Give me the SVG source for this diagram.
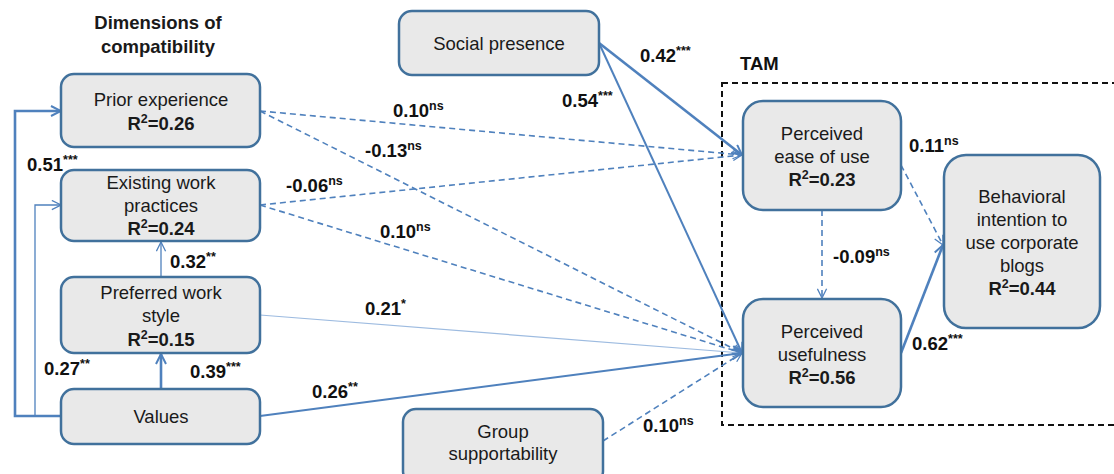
<svg xmlns="http://www.w3.org/2000/svg" width="1114" height="474" viewBox="0 0 1114 474">
<style>
.node{fill:#e9e9e9;stroke:#41719c;stroke-width:2.5}
.t{font-family:"Liberation Sans",Arial,sans-serif;font-size:18.5px;fill:#1a1a1a;text-anchor:middle}
.b{font-weight:bold}
.lab{font-family:"Liberation Sans",Arial,sans-serif;font-size:18.5px;font-weight:bold;fill:#111}
.sup{font-size:12.5px}
.c{fill:none;stroke:#4f81bd}
.thick{stroke-width:2.6}
.med{stroke-width:2}
.thin{stroke-width:1.3}
.light{stroke:#9dbbe0;stroke-width:1.2}
.dash{stroke-width:1.6;stroke-dasharray:6 4}
</style>
<defs>
<marker id="a" viewBox="0 0 12 12" refX="11" refY="6" markerWidth="12" markerHeight="12" markerUnits="userSpaceOnUse" orient="auto">
<path d="M1,1 L11,6 L1,11" fill="none" stroke="#4f81bd" stroke-width="2"/>
</marker>
<marker id="as" viewBox="0 0 12 12" refX="11" refY="6" markerWidth="11" markerHeight="11" markerUnits="userSpaceOnUse" orient="auto">
<path d="M1,1 L11,6 L1,11" fill="none" stroke="#4f81bd" stroke-width="1.4"/>
</marker>
</defs>

<g id="tam-frame">
<rect x="722" y="83" width="420" height="342" fill="none" stroke="#111" stroke-width="2" stroke-dasharray="6 4"/>
<text x="740" y="70" class="lab">TAM</text>
</g>
<g id="title">
<text x="158" y="29" class="t b">Dimensions of</text>
<text x="158" y="53" class="t b">compatibility</text>
</g>

<g id="connectors">
<polyline class="c thick" points="61,416 15,416 15,111 61,111" marker-end="url(#a)"/>
<polyline class="c thin" points="61,416 35,416 35,205 61,205" marker-end="url(#as)"/>
<line class="c thick" x1="161" y1="389" x2="161" y2="354" marker-end="url(#a)"/>
<line class="c thin" x1="161" y1="277" x2="161" y2="242" marker-end="url(#as)"/>
<line class="c dash" x1="260" y1="111" x2="742" y2="155" marker-end="url(#as)"/>
<line class="c dash" x1="260" y1="111" x2="742" y2="353" marker-end="url(#as)"/>
<line class="c dash" x1="260" y1="205" x2="742" y2="155" marker-end="url(#as)"/>
<line class="c dash" x1="260" y1="205" x2="742" y2="353" marker-end="url(#as)"/>
<line class="c light" x1="260" y1="315" x2="742" y2="353" marker-end="url(#as)"/>
<line class="c med" x1="260" y1="416" x2="742" y2="353" marker-end="url(#a)"/>
<line class="c dash" x1="603" y1="441" x2="742" y2="353" marker-end="url(#as)"/>
<line class="c thick" x1="599" y1="43" x2="742" y2="155" marker-end="url(#a)"/>
<line class="c med" x1="599" y1="43" x2="742" y2="353" marker-end="url(#a)"/>
<line class="c dash" x1="822" y1="210" x2="822" y2="298" marker-end="url(#as)"/>
<line class="c dash" x1="901" y1="165" x2="943" y2="245" marker-end="url(#as)"/>
<line class="c thick" x1="901" y1="353" x2="943" y2="245" marker-end="url(#a)"/>
</g>

<g id="labels">
<text x="27" y="171" class="lab">0.51<tspan class="sup" dy="-7">***</tspan></text>
<text x="44" y="375" class="lab">0.27<tspan class="sup" dy="-7">**</tspan></text>
<text x="170" y="268" class="lab">0.32<tspan class="sup" dy="-7">**</tspan></text>
<text x="190" y="378" class="lab">0.39<tspan class="sup" dy="-7">***</tspan></text>
<text x="393" y="117" class="lab">0.10<tspan class="sup" dy="-7">ns</tspan></text>
<text x="365" y="157" class="lab">-0.13<tspan class="sup" dy="-7">ns</tspan></text>
<text x="286" y="192" class="lab">-0.06<tspan class="sup" dy="-7">ns</tspan></text>
<text x="380" y="238" class="lab">0.10<tspan class="sup" dy="-7">ns</tspan></text>
<text x="562" y="107" class="lab">0.54<tspan class="sup" dy="-7">***</tspan></text>
<text x="640" y="62" class="lab">0.42<tspan class="sup" dy="-7">***</tspan></text>
<text x="365" y="315" class="lab">0.21<tspan class="sup" dy="-7">*</tspan></text>
<text x="312" y="398" class="lab">0.26<tspan class="sup" dy="-7">**</tspan></text>
<text x="643" y="432" class="lab">0.10<tspan class="sup" dy="-7">ns</tspan></text>
<text x="909" y="152" class="lab">0.11<tspan class="sup" dy="-7">ns</tspan></text>
<text x="833" y="263" class="lab">-0.09<tspan class="sup" dy="-7">ns</tspan></text>
<text x="912" y="350" class="lab">0.62<tspan class="sup" dy="-7">***</tspan></text>
</g>

<g id="prior-experience">
<rect class="node" x="61" y="74" width="199" height="73" rx="13"/>
<text class="t" x="161" y="106">Prior experience</text>
<text class="t b" x="161" y="130">R<tspan class="sup" dy="-7">2</tspan><tspan dy="7">=0.26</tspan></text>
</g>
<g id="existing-work-practices">
<rect class="node" x="61" y="170" width="199" height="71" rx="13"/>
<text class="t" x="161" y="189">Existing work</text>
<text class="t" x="161" y="212">practices</text>
<text class="t b" x="161" y="235">R<tspan class="sup" dy="-7">2</tspan><tspan dy="7">=0.24</tspan></text>
</g>
<g id="preferred-work-style">
<rect class="node" x="61" y="277" width="199" height="76" rx="13"/>
<text class="t" x="161" y="299">Preferred work</text>
<text class="t" x="161" y="322">style</text>
<text class="t b" x="161" y="346">R<tspan class="sup" dy="-7">2</tspan><tspan dy="7">=0.15</tspan></text>
</g>
<g id="values">
<rect class="node" x="61" y="389" width="199" height="55" rx="13"/>
<text class="t" x="161" y="423">Values</text>
</g>
<g id="social-presence">
<rect class="node" x="399" y="11" width="200" height="64" rx="13"/>
<text class="t" x="499" y="50">Social presence</text>
</g>
<g id="group-supportability">
<rect class="node" x="403" y="409" width="200" height="75" rx="13"/>
<text class="t" x="503" y="438">Group</text>
<text class="t" x="503" y="460">supportability</text>
</g>
<g id="perceived-ease-of-use">
<rect class="node" x="743" y="101" width="158" height="109" rx="20"/>
<text class="t" x="822" y="140">Perceived</text>
<text class="t" x="822" y="163">ease of use</text>
<text class="t b" x="822" y="186">R<tspan class="sup" dy="-7">2</tspan><tspan dy="7">=0.23</tspan></text>
</g>
<g id="perceived-usefulness">
<rect class="node" x="743" y="299" width="158" height="108" rx="20"/>
<text class="t" x="822" y="338">Perceived</text>
<text class="t" x="822" y="361">usefulness</text>
<text class="t b" x="822" y="384">R<tspan class="sup" dy="-7">2</tspan><tspan dy="7">=0.56</tspan></text>
</g>
<g id="behavioral-intention">
<rect class="node" x="944" y="155" width="156" height="173" rx="22"/>
<text class="t" x="1022" y="203">Behavioral</text>
<text class="t" x="1022" y="226">intention to</text>
<text class="t" x="1022" y="249">use corporate</text>
<text class="t" x="1022" y="272">blogs</text>
<text class="t b" x="1022" y="295">R<tspan class="sup" dy="-7">2</tspan><tspan dy="7">=0.44</tspan></text>
</g>
</svg>
